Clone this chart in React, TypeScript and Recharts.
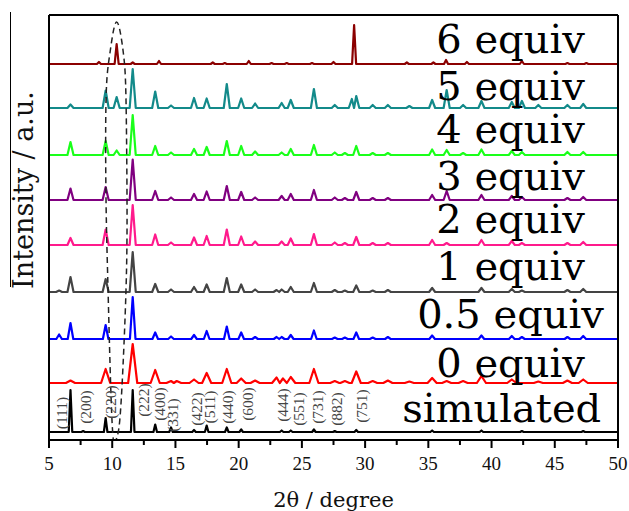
import React from 'react'
import { LineChart, Line, XAxis, YAxis, ReferenceDot } from 'recharts'

// Stacked XRD patterns. Peaks are [2θ (deg), height above the trace's baseline].

const SIM_PEAKS = [
  [6.7, 42], [7.7, 1], [9.48, 14], [11.62, 42], [13.4, 7.5], [14.65, 4.5], [16.47, 2], [17.47, 6.5],
  [19.06, 4.5], [20.2, 2.5], [23.4, 1.5], [24.12, 1.5], [25.95, 2.5], [27.6, 1], [29.3, 2],
  [35.3, 1.5], [39.2, 1.5], [42.4, 1], [47.25, 1],
]
const EQ0_PEAKS = [
  [6.7, 2.5], [9.48, 14], [11.62, 39], [13.4, 13], [14.65, 2], [15.1, 2], [16.47, 3.5], [17.47, 10],
  [19.06, 14], [20.2, 4.5], [21.3, 2.5], [23.0, 5.5], [23.5, 4.5], [24.12, 6], [25.95, 14], [27.6, 2],
  [28.4, 2], [29.3, 11.5], [30.6, 2], [31.8, 2.5], [33.5, 1.5], [35.3, 5], [36.45, 2], [37.75, 2],
  [39.2, 7], [41.6, 3.5], [43.7, 1.5], [46.0, 2.5], [47.25, 3.5],
]
const EQ05_PEAKS = [
  [5.8, 4.5], [6.7, 16], [9.48, 14], [11.62, 42], [13.4, 6.5], [14.65, 2.5], [16.47, 4], [17.47, 8],
  [19.06, 12.5], [20.2, 6.5], [21.3, 2], [23.0, 2], [23.4, 2], [24.12, 4], [25.95, 8.5], [27.6, 1.5],
  [28.4, 1.5], [29.3, 6.5], [30.6, 1.5], [31.8, 2], [35.3, 3.5], [39.2, 3.5], [41.6, 3], [42.4, 2],
  [46.0, 2], [47.25, 3],
]
const EQ1_PEAKS = [
  [5.8, 1.5], [6.7, 15], [9.48, 13], [11.62, 40], [13.4, 8], [14.65, 2.5], [16.47, 5], [17.47, 7.5],
  [19.06, 14], [20.2, 7.5], [21.3, 2.5], [23.0, 2], [23.4, 2.5], [24.12, 5], [25.95, 9], [27.6, 2],
  [28.4, 1.5], [29.3, 6.5], [30.6, 1.5], [31.8, 2], [35.3, 4], [39.2, 4], [41.6, 3], [42.4, 1.5],
  [46.0, 2], [47.25, 3],
]
const EQ2_PEAKS = [
  [6.7, 7], [9.48, 15.5], [11.62, 40], [13.4, 10.5], [14.65, 2.5], [16.47, 7.5], [17.47, 9],
  [19.06, 15.5], [20.2, 8.5], [21.3, 3.5], [23.4, 3.5], [24.12, 6.5], [25.95, 11], [27.6, 2.5],
  [28.4, 2], [29.3, 8], [30.6, 2], [31.8, 2], [35.3, 5], [36.45, 2], [39.2, 5], [41.6, 4], [42.4, 2],
  [46.0, 2], [47.25, 3],
]
const EQ3_PEAKS = [
  [6.7, 11.5], [9.48, 13], [11.62, 40.5], [13.4, 9], [14.65, 2.5], [16.47, 6], [17.47, 8.5],
  [19.06, 14], [20.2, 8], [21.3, 2.5], [23.4, 4], [24.12, 6], [25.95, 10], [27.6, 2.5], [28.4, 2],
  [29.3, 8], [30.6, 2], [31.8, 2], [35.3, 5], [36.45, 9], [39.2, 5], [41.6, 4], [42.4, 3], [46.0, 2],
  [47.25, 3],
]
const EQ4_PEAKS = [
  [6.7, 13], [9.48, 14], [10.35, 4.5], [11.62, 40], [13.4, 9], [14.65, 2.5], [16.47, 6], [17.47, 8],
  [19.06, 14], [20.2, 9], [21.3, 3.5], [23.4, 2.5], [24.12, 6], [25.95, 10], [27.6, 2.5], [28.4, 2],
  [29.3, 9], [30.6, 2], [31.8, 2], [35.3, 5.5], [36.45, 5], [37.75, 2], [39.2, 5.5], [41.6, 4],
  [42.4, 3], [46.0, 3], [47.25, 3],
]
const EQ5_PEAKS = [
  [6.7, 3.5], [9.48, 17.5], [10.35, 11], [11.62, 39], [13.4, 16.5], [14.65, 2.5], [16.47, 10],
  [17.47, 9.5], [19.06, 24], [20.2, 9.5], [21.3, 4.5], [23.4, 5], [24.12, 8], [25.95, 19], [27.6, 3],
  [28.95, 9], [29.3, 12], [30.6, 3], [31.8, 3], [33.5, 2], [35.3, 8], [36.45, 18], [37.75, 3],
  [39.2, 7], [41.6, 6], [42.4, 7], [43.7, 3], [46.0, 3], [47.25, 4],
]
const EQ6_PEAKS = [
  [8.95, 2], [10.35, 20], [11.62, 1.5], [13.7, 3], [17.95, 1.5], [18.9, 1], [20.8, 3], [22.6, 1],
  [23.8, 1], [25.8, 1], [27.5, 2], [29.13, 39], [33.3, 1.5], [35.4, 1.5], [36.4, 4], [38.05, 2],
  [42.4, 3], [46.0, 1], [47.5, 1],
]

const SERIES_NAMES = ['simulated', '0 equiv', '0.5 equiv', '1 equiv', '2 equiv', '3 equiv', '4 equiv', '5 equiv', '6 equiv']
const SERIES_PEAKS = [SIM_PEAKS, EQ0_PEAKS, EQ05_PEAKS, EQ1_PEAKS, EQ2_PEAKS, EQ3_PEAKS, EQ4_PEAKS, EQ5_PEAKS, EQ6_PEAKS]

// stacking offsets and look of each trace
const BASELINES = [8, 57, 101, 148, 195, 240, 285, 332, 376]
const COLORS = ['#000000', '#ff0000', '#0000ff', '#444444', '#ff1a8c', '#800080', '#1aff1a', '#138a8a', '#8b0000']
const HALF_WIDTHS = [0.14, 0.36, 0.22, 0.24, 0.24, 0.24, 0.24, 0.24, 0.16]
const LABEL_X = [40.8, 41.5, 41.5, 41.5, 41.5, 41.5, 41.5, 41.5, 41.5]
const LABEL_LIFT = [10, 6, 11, 12, 12, 10, 12, 8, 11]

// Miller indices over the simulated pattern
const MILLER_LABELS = ['(111)', '(200)', '(220)', '(222)', '(400)', '(331)', '(422)', '(511)', '(440)', '(600)', '(444)', '(551)', '(731)', '(882)', '(751)']
const MILLER_X = [5.95, 7.85, 9.88, 12.46, 13.73, 14.78, 16.68, 17.68, 19.13, 20.68, 23.45, 24.77, 26.25, 27.75, 29.73]
const MILLER_Y = [27, 33, 38, 40, 36, 25, 31, 33, 33, 36, 35, 31, 33, 31, 34]

// dashed loop around the 10.35° peak
const LOOP_X = [10.35, 10.0, 9.67, 9.51, 9.51, 9.82, 10.35, 10.88, 11.09, 11.17, 11.09, 10.77, 10.54, 10.4]
const LOOP_Y = [2, 15, 150, 240, 340, 387, 418, 387, 340, 240, 150, 53, 13, 4]

const X_TICKS = [5, 7.5, 10, 12.5, 15, 17.5, 20, 22.5, 25, 27.5, 30, 32.5, 35, 37.5, 40, 42.5, 45, 47.5, 50]

function buildTrace(peaks: number[][], base: number, w: number) {
  const pts = [{ x: 5, y: base }]
  peaks.forEach(([pos, h], i) => {
    const prev = peaks[i - 1]
    const next = peaks[i + 1]
    const left = prev ? Math.max(pos - w, (prev[0] + pos) / 2) : pos - w
    const right = next ? Math.min(pos + w, (pos + next[0]) / 2) : pos + w
    if (left > pts[pts.length - 1].x) pts.push({ x: left, y: base })
    pts.push({ x: pos, y: base + h })
    pts.push({ x: right, y: base })
  })
  pts.push({ x: 50, y: base })
  return pts
}

const TRACES = SERIES_PEAKS.map((p, i) => buildTrace(p, BASELINES[i], HALF_WIDTHS[i]))
const LOOP = LOOP_X.map((x, i) => ({ x, y: LOOP_Y[i] }))

const SERIF = 'DejaVu Serif'

function XTick(props: any) {
  const { x, y, payload } = props
  const major = payload.value % 5 === 0
  return (
    <g>
      <line x1={x} x2={x} y1={y} y2={y + (major ? 8 : 5)} stroke="#000" strokeWidth={2} />
      {major && (
        <text x={x} y={y + 30} textAnchor="middle" fontFamily="Liberation Serif" fontSize={19} fill="#111">
          {payload.value}
        </text>
      )}
    </g>
  )
}

export default function App() {
  return (
    <div style={{ position: 'absolute', left: 0, top: 0, width: 629, height: 511, background: '#fff' }}>
      <LineChart width={629} height={511} margin={{ top: 14, right: 10, bottom: 0, left: 48 }}>
        <XAxis
          dataKey="x"
          type="number"
          domain={[5, 50]}
          allowDataOverflow
          ticks={X_TICKS}
          interval={0}
          tickSize={0}
          tickMargin={0}
          tick={<XTick />}
          height={71}
          axisLine={{ stroke: '#000', strokeWidth: 2 }}
          label={(p: any) => {
            const vb = p.viewBox
            return (
              <text x={vb.x + vb.width / 2} y={vb.y + 67} textAnchor="middle" fontFamily={SERIF} fontSize={21} fill="#111">
                2θ / degree
              </text>
            )
          }}
        />
        <XAxis
          xAxisId="top"
          orientation="top"
          type="number"
          domain={[5, 50]}
          height={1}
          tick={false}
          tickLine={false}
          axisLine={{ stroke: '#000', strokeWidth: 2 }}
        />
        <YAxis
          type="number"
          domain={[0, 425]}
          allowDataOverflow
          width={1}
          tick={false}
          tickLine={false}
          axisLine={{ stroke: '#000', strokeWidth: 2 }}
          label={() => (
            <g>
              <line x1={10.5} x2={10.5} y1={12} y2={287} stroke="#000" strokeWidth={1} />
              <text
                x={33}
                y={190}
                transform="rotate(-90 33 190)"
                textAnchor="middle"
                fontFamily={SERIF}
                fontSize={27}
                fill="#111"
              >
                Intensity / a.u.
              </text>
            </g>
          )}
        />
        <YAxis
          yAxisId="right"
          orientation="right"
          type="number"
          domain={[0, 425]}
          width={1}
          tick={false}
          tickLine={false}
          axisLine={{ stroke: '#000', strokeWidth: 2 }}
        />

        {TRACES.map((data, i) => (
          <Line
            key={SERIES_NAMES[i]}
            data={data}
            dataKey="y"
            type="linear"
            stroke={COLORS[i]}
            strokeWidth={2.2}
            strokeLinejoin="round"
            dot={false}
            activeDot={false}
            isAnimationActive={false}
          />
        ))}

        <Line
          data={LOOP}
          dataKey="y"
          type="natural"
          stroke="#222"
          strokeWidth={1.5}
          strokeDasharray="6 4"
          dot={false}
          activeDot={false}
          isAnimationActive={false}
        />

        {MILLER_LABELS.map((t, i) => (
          <ReferenceDot
            key={t}
            x={MILLER_X[i]}
            y={MILLER_Y[i]}
            r={0}
            shape={(p: any) => (
              <text
                x={p.cx}
                y={p.cy}
                transform={`rotate(-90 ${p.cx} ${p.cy})`}
                textAnchor="middle"
                dominantBaseline="central"
                fontFamily="Liberation Serif"
                fontSize={15.5}
                fill="#444"
              >
                {t}
              </text>
            )}
          />
        ))}

        {SERIES_NAMES.map((name, i) => (
          <ReferenceDot
            key={'lbl-' + name}
            x={LABEL_X[i]}
            y={BASELINES[i] + LABEL_LIFT[i]}
            r={0}
            shape={(p: any) => (
              <text x={p.cx} y={p.cy} textAnchor="middle" fontFamily={SERIF} fontSize={40} fill="#000">
                {name}
              </text>
            )}
          />
        ))}
      </LineChart>
    </div>
  )
}
